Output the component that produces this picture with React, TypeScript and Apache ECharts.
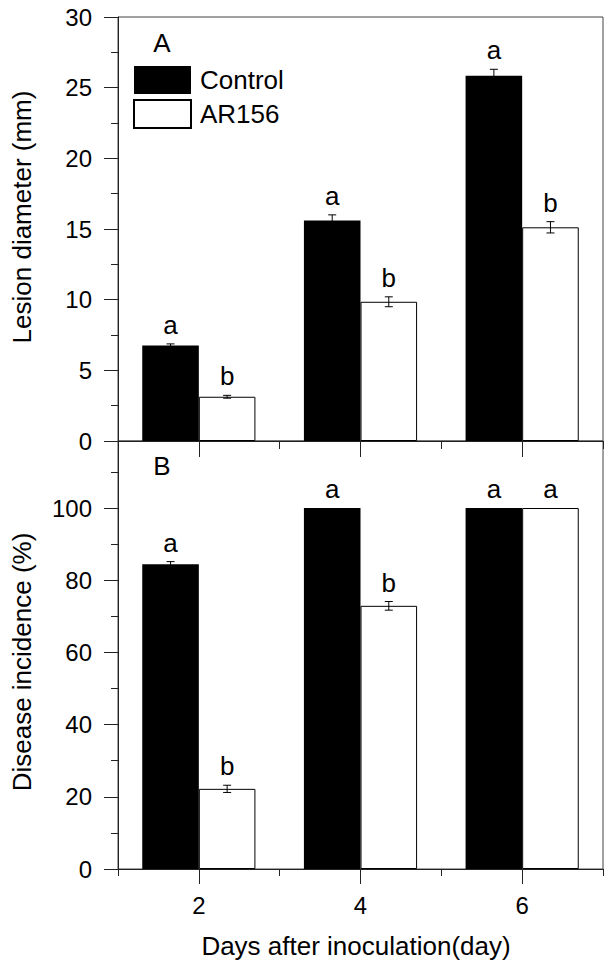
import React, { useEffect, useRef } from "react";
import * as echarts from "echarts";

const categories = ["2", "4", "6"];
const lesionControl = [6.75, 15.6, 25.85];
const lesionControlErr = [0.12, 0.4, 0.45];
const lesionAR156 = [3.13, 9.85, 15.12];
const lesionAR156Err = [0.1, 0.35, 0.4];
const lesionControlLetters = ["a", "a", "a"];
const lesionAR156Letters = ["b", "b", "b"];
const incidenceControl = [84.4, 100, 100];
const incidenceControlErr = [0.75, 0, 0];
const incidenceAR156 = [22.2, 72.9, 100];
const incidenceAR156Err = [1.0, 1.2, 0];
const incidenceControlLetters = ["a", "a", "a"];
const incidenceAR156Letters = ["b", "b", "a"];

const FONT = "'Liberation Sans', Arial, sans-serif";
const AX = "#222";

function errData(ctrl: number[], ctrlErr: number[], ar: number[], arErr: number[]) {
  const d: number[][] = [];
  ctrl.forEach((v, i) => d.push([i, v, ctrlErr[i], 0]));
  ar.forEach((v, i) => d.push([i, v, arErr[i], 1]));
  return d;
}

function makeRender(letters: string[]) {
  return (params: any, api: any) => {
    const cat = api.value(0);
    const mean = api.value(1);
    const err = api.value(2);
    const side = api.value(3);
    const band = api.size([1, 0])[0];
    const off = (side === 0 ? -1 : 1) * band * 0.175;
    const top = api.coord([cat, mean + err]);
    const bot = api.coord([cat, mean - err]);
    const x = top[0] + off;
    const children: any[] = [];
    const stroke = { stroke: "#000", lineWidth: 1 };
    if (err > 0) {
      children.push({ type: "line", shape: { x1: x, y1: top[1], x2: x, y2: bot[1] }, style: stroke });
      children.push({ type: "line", shape: { x1: x - 4, y1: top[1], x2: x + 4, y2: top[1] }, style: stroke });
      children.push({ type: "line", shape: { x1: x - 4, y1: bot[1], x2: x + 4, y2: bot[1] }, style: stroke });
    }
    children.push({
      type: "text",
      x: x,
      y: top[1] - 6,
      style: {
        text: letters[params.dataIndex],
        fontSize: 26,
        fontFamily: FONT,
        fill: "#000",
        textAlign: "center",
        textVerticalAlign: "bottom",
      },
    });
    return { type: "group", children };
  };
}

export default function App() {
  const ref = useRef<HTMLDivElement>(null);
  useEffect(() => {
    if (!ref.current) return;
    const chart = echarts.init(ref.current, undefined, { renderer: "svg" });
    const gridLeft = 118;
    const gridWidth = 485;
    const lineStyle = { color: AX, width: 1 };
    const catAxis = (gridIndex: number, major: boolean, len: number, labels: boolean, line: boolean) => ({
      type: "category",
      gridIndex,
      position: "bottom",
      data: categories,
      boundaryGap: true,
      axisLine: { show: line, lineStyle },
      axisTick: { show: true, alignWithLabel: major, length: len, lineStyle },
      axisLabel: labels
        ? { show: true, margin: 24, fontSize: 24, fontFamily: FONT, color: "#000" }
        : { show: false },
      splitLine: { show: false },
    });
    const valAxis = (
      gridIndex: number,
      max: number,
      interval: number,
      len: number,
      labels: boolean,
      line: boolean,
      labelStep?: number
    ) => ({
      type: "value",
      gridIndex,
      position: "left",
      min: 0,
      max,
      interval,
      axisLine: { show: line, lineStyle },
      axisTick: { show: true, length: len, lineStyle },
      axisLabel: labels
        ? {
            show: true,
            margin: 26,
            fontSize: 24,
            fontFamily: FONT,
            color: "#000",
            showMaxLabel: labelStep ? false : true,
            formatter: (v: number) =>
              labelStep ? (Math.abs(v % labelStep) < 1e-6 && v <= 100 ? String(v) : "") : String(v),
          }
        : { show: false },
      splitLine: { show: false },
    });
    const lesionErr = errData(lesionControl, lesionControlErr, lesionAR156, lesionAR156Err);
    const incErr = errData(incidenceControl, incidenceControlErr, incidenceAR156, incidenceAR156Err);
    const lettersTop = [...lesionControlLetters, ...lesionAR156Letters];
    const lettersBot = [...incidenceControlLetters, ...incidenceAR156Letters];
    const ctrlStyle = { color: "#000" };
    const arStyle = { color: "#fff", borderColor: "#000", borderWidth: 1 };

    chart.setOption({
      animation: false,
      backgroundColor: "#fff",
      textStyle: { fontFamily: FONT },
      grid: [
        { left: gridLeft, top: 17, width: gridWidth, height: 424, show: true, borderColor: "#444", borderWidth: 1, backgroundColor: "transparent" },
        { left: gridLeft, top: 441, width: gridWidth, height: 428, show: true, borderColor: "#444", borderWidth: 1, backgroundColor: "transparent" },
      ],
      xAxis: [
        catAxis(0, false, 8, false, true),
        catAxis(0, true, 16, false, false),
        catAxis(1, false, 7, false, true),
        catAxis(1, true, 15, true, false),
      ],
      yAxis: [
        valAxis(0, 30, 5, 14, true, true),
        valAxis(0, 30, 2.5, 7, false, false),
        valAxis(1, 118.56, 20, 14, true, true, 20),
        valAxis(1, 118.56, 10, 7, false, false),
      ],
      legend: {
        orient: "vertical",
        left: 133,
        top: 66,
        padding: 0,
        itemWidth: 57,
        itemHeight: 28,
        itemGap: 5,
        icon: "rect",
        data: ["Control", "AR156"],
        textStyle: { fontSize: 26, fontFamily: FONT, color: "#000", padding: [0, 0, 0, 4] },
      },
      series: [
        { name: "Control", type: "bar", xAxisIndex: 0, yAxisIndex: 0, data: lesionControl, barWidth: "35%", barGap: "0%", itemStyle: ctrlStyle },
        { name: "AR156", type: "bar", xAxisIndex: 0, yAxisIndex: 0, data: lesionAR156, barWidth: "35%", barGap: "0%", itemStyle: arStyle },
        { name: "Control", type: "bar", xAxisIndex: 2, yAxisIndex: 2, data: incidenceControl, barWidth: "35%", barGap: "0%", itemStyle: ctrlStyle },
        { name: "AR156", type: "bar", xAxisIndex: 2, yAxisIndex: 2, data: incidenceAR156, barWidth: "35%", barGap: "0%", itemStyle: arStyle },
        { type: "custom", xAxisIndex: 0, yAxisIndex: 0, data: lesionErr, encode: { x: 0, y: 1 }, renderItem: makeRender(lettersTop), clip: false, z: 5 },
        { type: "custom", xAxisIndex: 2, yAxisIndex: 2, data: incErr, encode: { x: 0, y: 1 }, renderItem: makeRender(lettersBot), clip: false, z: 5 },
      ],
      graphic: [
        { type: "text", x: 162, y: 43, style: { text: "A", fontSize: 26, fontFamily: FONT, fill: "#000", textAlign: "center", textVerticalAlign: "middle" } },
        { type: "text", x: 162, y: 466, style: { text: "B", fontSize: 26, fontFamily: FONT, fill: "#000", textAlign: "center", textVerticalAlign: "middle" } },
        { type: "text", x: 22, y: 217, rotation: Math.PI / 2, style: { text: "Lesion diameter (mm)", fontSize: 26, fontFamily: FONT, fill: "#000", textAlign: "center", textVerticalAlign: "middle" } },
        { type: "text", x: 22, y: 662, rotation: Math.PI / 2, style: { text: "Disease incidence (%)", fontSize: 26, fontFamily: FONT, fill: "#000", textAlign: "center", textVerticalAlign: "middle" } },
        { type: "text", x: 356, y: 946, style: { text: "Days after inoculation(day)", fontSize: 26, fontFamily: FONT, fill: "#000", textAlign: "center", textVerticalAlign: "middle" } },
      ],
    });
    return () => chart.dispose();
  }, []);
  return <div ref={ref} style={{ position: "fixed", left: 0, top: 0, width: 609, height: 966 }} />;
}
